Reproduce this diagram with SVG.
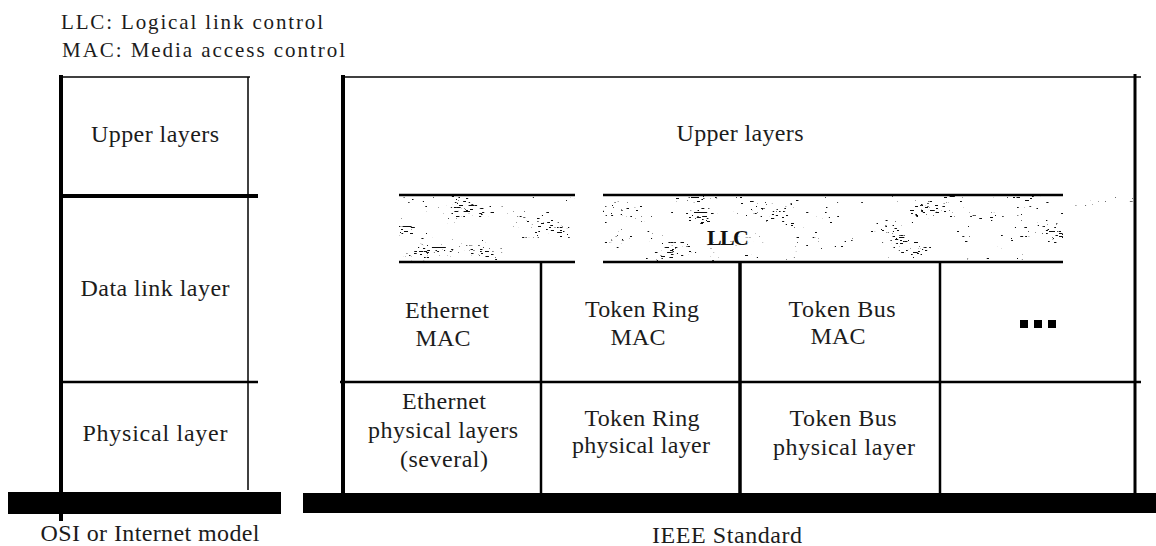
<svg xmlns="http://www.w3.org/2000/svg" width="1156" height="546" viewBox="0 0 1156 546">
<style>
  text { font-family: "Liberation Serif", "Times New Roman", serif; font-size: 24px; fill: #1c1c1c; text-anchor: middle; }
  .hdr { font-size: 21px; text-anchor: start; }
  .llc { font-size: 22px; font-weight: bold; fill: #111; }
  .thick { stroke: #000; stroke-width: 4; fill: none; }
  .med { stroke: #000; stroke-width: 2.5; fill: none; }
  .thin { stroke: #000; stroke-width: 1.5; fill: none; }
  .bar { fill: #000; }
</style>
<defs>
  <filter id="speck" x="0" y="0" width="100%" height="100%" filterUnits="objectBoundingBox" color-interpolation-filters="sRGB">
    <feTurbulence type="fractalNoise" baseFrequency="0.2 0.8" numOctaves="2" seed="7" result="n0"/>
    <feColorMatrix in="n0" type="matrix" values="1 0 0 0 0  1 0 0 0 0  1 0 0 0 0  0 0 0 0 1" result="n"/>
    <feTurbulence type="fractalNoise" baseFrequency="0.025 0.05" numOctaves="1" seed="3" result="c0"/>
    <feColorMatrix in="c0" type="matrix" values="1 0 0 0 0  1 0 0 0 0  1 0 0 0 0  0 0 0 0 1" result="c"/>
    <feComposite in="n" in2="c" operator="arithmetic" k1="0" k2="1" k3="-0.7" k4="0.7" result="s"/>
    <feColorMatrix in="s" type="matrix" values="0 0 0 0 0.05  0 0 0 0 0.05  0 0 0 0 0.05  -22 0 0 0 13.1" result="d"/>
    <feComposite in="d" in2="SourceAlpha" operator="in"/>
  </filter>
</defs>
<rect width="1156" height="546" fill="#fff"/>

<g id="legend">
  <text class="hdr" x="61" y="29" textLength="262">LLC: Logical link control</text>
  <text class="hdr" x="62" y="57" textLength="283">MAC: Media access control</text>
</g>

<g id="connectors">
  <line class="thin" x1="61" y1="77" x2="250" y2="77"/>
  <line class="thin" x1="248" y1="77" x2="248" y2="490"/>
  <line class="thick" x1="61" y1="75" x2="61" y2="521"/>
  <line class="thick" x1="61" y1="196" x2="258" y2="196"/>
  <line class="med" x1="61" y1="382" x2="258" y2="382"/>
  <line class="thin" x1="343" y1="77" x2="1141" y2="77"/>
  <line class="thick" x1="343" y1="75" x2="343" y2="493"/>
  <line x1="1135" y1="74" x2="1135" y2="493" stroke="#000" stroke-width="3"/>
  <line class="med" x1="340" y1="382" x2="1141" y2="382"/>
  <line class="med" x1="541" y1="263" x2="541" y2="493"/>
  <line x1="740" y1="262" x2="740" y2="493" stroke="#000" stroke-width="3.5"/>
  <line class="med" x1="940" y1="262" x2="940" y2="493"/>
</g>

<g id="osi-upper"><text x="155" y="142" textLength="128">Upper layers</text></g>
<g id="osi-datalink"><text x="155" y="296" textLength="149">Data link layer</text></g>
<g id="osi-physical"><text x="155" y="441" textLength="145">Physical layer</text></g>
<g id="osi-base">
  <rect class="bar" x="8" y="492" width="273" height="22"/>
  <text x="150" y="541" textLength="219">OSI or Internet model</text>
</g>

<g id="ieee-upper"><text x="740" y="141" textLength="127">Upper layers</text></g>

<g id="llc">
  <rect x="399" y="196" width="176" height="66" fill="#000" filter="url(#speck)"/>
  <rect x="603" y="196" width="460" height="66" fill="#000" filter="url(#speck)"/>
  <rect x="1063" y="197" width="70" height="10" fill="#000" filter="url(#speck)" opacity="0.6"/>
  <line class="med" x1="399" y1="195" x2="575" y2="195"/>
  <line class="med" x1="399" y1="262" x2="575" y2="262"/>
  <line class="med" x1="603" y1="195" x2="1063" y2="195"/>
  <line class="med" x1="603" y1="262" x2="1063" y2="262"/>
  <rect x="704" y="225" width="50" height="24" fill="#fff" opacity="0.7"/>
  <text class="llc" x="728" y="245" textLength="42">LLC</text>
</g>

<g id="eth-mac">
  <text x="447" y="318" textLength="84">Ethernet</text>
  <text x="443" y="346" textLength="55">MAC</text>
</g>
<g id="tr-mac">
  <text x="642" y="317" textLength="114">Token Ring</text>
  <text x="638" y="345" textLength="55">MAC</text>
</g>
<g id="tb-mac">
  <text x="842" y="317" textLength="107">Token Bus</text>
  <text x="838" y="344" textLength="55">MAC</text>
</g>
<g id="more-mac">
  <rect x="1020" y="320" width="8" height="8" fill="#000"/>
  <rect x="1034" y="320" width="8" height="8" fill="#000"/>
  <rect x="1048" y="320" width="8" height="8" fill="#000"/>
</g>

<g id="eth-phy">
  <text x="444" y="409" textLength="84">Ethernet</text>
  <text x="443" y="438" textLength="150">physical layers</text>
  <text x="444" y="467" textLength="88">(several)</text>
</g>
<g id="tr-phy">
  <text x="642" y="426" textLength="115">Token Ring</text>
  <text x="641" y="453" textLength="138">physical layer</text>
</g>
<g id="tb-phy">
  <text x="843" y="426" textLength="107">Token Bus</text>
  <text x="844" y="455" textLength="142">physical layer</text>
</g>

<g id="ieee-base">
  <rect class="bar" x="303" y="493" width="853" height="20"/>
  <text x="727" y="543" textLength="150">IEEE Standard</text>
</g>
</svg>
